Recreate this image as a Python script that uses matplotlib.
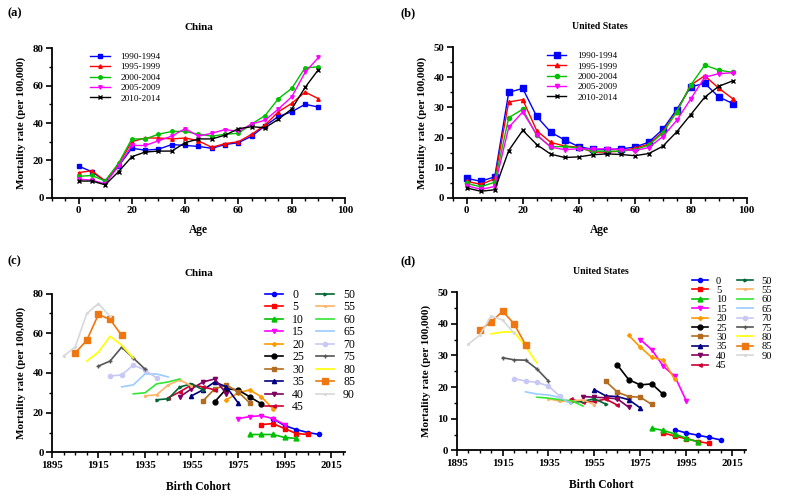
import matplotlib.pyplot as plt
from matplotlib.ticker import MultipleLocator

plt.rcParams['font.family'] = ['Liberation Serif', 'DejaVu Serif']

# Age groups and calendar periods
ages_cn = [0, 5, 10, 15, 20, 25, 30, 35, 40, 45, 50, 55, 60, 65, 70, 75, 80, 85, 90]
ages_us = [0, 5, 10, 15, 20, 25, 30, 35, 40, 45, 50, 55, 60, 65, 70, 75, 80, 85, 90, 95]
periods = ["1990-1994", "1995-1999", "2000-2004", "2005-2009", "2010-2014"]
period_start = [1990, 1995, 2000, 2005, 2010]

# China mortality rate (per 100,000) by age, one list per period
cn_1990 = [17, 14, 9, 17, 26.5, 25.5, 26, 28.5, 28, 27.5, 26.5, 28.5, 29.5, 33, 38.5, 43.5, 46, 50, 48.5]
cn_1995 = [13.5, 14.5, 9, 18, 30, 32, 32, 31.5, 32, 30.5, 27, 29, 30, 34, 39, 46, 50.5, 56.5, 53]
cn_2000 = [11.5, 12, 9, 18.5, 31.5, 31.5, 34, 35.5, 35.5, 34, 33, 34, 34.5, 39.5, 44, 53, 58.5, 69.5, 70]
cn_2005 = [10, 9.5, 7.5, 17, 28, 28, 30.5, 33, 37, 33, 34.5, 36.5, 35.5, 39.5, 41.5, 47.5, 54, 67, 75]
cn_2010 = [9, 9, 7, 14, 22, 24.5, 25, 25, 29.5, 31.5, 31.5, 33.5, 37, 38, 37.5, 42, 47.5, 59, 68.5]

# United States mortality rate (per 100,000) by age
us_1990 = [6.5, 5.5, 7, 35, 36.3, 27, 21.8, 19.2, 17, 16.1, 16, 16.3, 16.8, 18.5, 22.7, 29.3, 36.8, 38, 33.5, 31.3]
us_1995 = [5.5, 4.5, 6.3, 31.8, 32.6, 22.3, 18.4, 17.2, 16.8, 15.2, 15.2, 15.5, 16.5, 17.8, 21.9, 28.6, 37.4, 40.5, 36.4, 32.9]
us_2000 = [4.8, 3.7, 5.2, 26.6, 29.4, 20.7, 17, 17, 16.6, 15.5, 15.5, 15.5, 16, 17.5, 21.5, 28.5, 37.4, 44, 42.4, 41.6]
us_2005 = [4.1, 2.8, 3.8, 23.4, 28.5, 21, 16.8, 16, 16.3, 16.2, 16.3, 16, 15.7, 16.7, 20.3, 25.7, 32.8, 40, 41.2, 41.5]
us_2010 = [3.3, 2.2, 2.7, 15.7, 22.4, 17.7, 14.5, 13.4, 13.6, 14.3, 14.6, 14.4, 14.0, 14.7, 17.1, 21.9, 27.6, 33.4, 37, 38.8]

cn_data = [cn_1990, cn_1995, cn_2000, cn_2005, cn_2010]
us_data = [us_1990, us_1995, us_2000, us_2005, us_2010]

# styles
period_colors = ['#0000ff', '#ff0000', '#00c000', '#ff00ff', '#000000']
period_markers = ['s', '^', 'o', 'v', 'x']
period_msize = [3.5, 2.5, 2.5, 2.5, 3]

age_colors = ['#0000ff', '#ff0000', '#00c000', '#ff00ff', '#ff9900',
              '#000000', '#b36b1f', '#000080', '#800060', '#cc0033',
              '#006633', '#ffb366', '#33e633', '#99ccff', '#c8c8f5',
              '#555555', '#ffff00', '#ee7711', '#d8d8d8']
age_markers = ['o', 's', '^', 'v', 'D', 'o', 's', '^', 'v', '<',
               '>', '.', '', '', 'o', '+', '', 's', '.']
age_msize = [3, 3.5, 3.5, 3, 2, 3.5, 3.5, 3, 3, 2.5,
             2, 2.5, 0, 0, 3, 3.5, 0, 4, 2.5]


def style_axes(ax, ylim, ymaj, xlim, xmaj, xmin, xlabel, xpad):
    ax.set_xlim(*xlim)
    ax.set_ylim(*ylim)
    ax.xaxis.set_major_locator(MultipleLocator(xmaj))
    ax.xaxis.set_minor_locator(MultipleLocator(xmin))
    ax.yaxis.set_major_locator(MultipleLocator(ymaj))
    ax.yaxis.set_minor_locator(MultipleLocator(ymaj / 2))
    for s in ['top', 'right']:
        ax.spines[s].set_visible(False)
    for s in ['left', 'bottom']:
        ax.spines[s].set_linewidth(1.3)
    ax.tick_params(which='major', direction='out', length=4, width=1.2, labelsize=7.8, pad=2)
    ax.tick_params(which='minor', direction='out', length=2.5, width=1.0)
    for lab in ax.get_xticklabels() + ax.get_yticklabels():
        lab.set_fontweight('bold')
    ax.set_xlabel(xlabel, fontsize=8.3, fontweight='bold', labelpad=xpad)
    ax.set_ylabel("Mortality rate (per 100,000)", fontsize=8, fontweight='bold', labelpad=5)


fig = plt.figure(figsize=(7.86, 4.96), dpi=100)

ax_a = fig.add_axes([0.066, 0.601, 0.373, 0.302])
ax_b = fig.add_axes([0.576, 0.601, 0.374, 0.304])
ax_c = fig.add_axes([0.066, 0.088, 0.373, 0.320])
ax_d = fig.add_axes([0.581, 0.092, 0.368, 0.319])

# (a) and (b): rate by age for each period
for ax, ages, data, title, tfs, xlim, ylim, ymaj, leg_x in [
        (ax_a, ages_cn, cn_data, "China", 8, (-10, 100), (0, 80), 20, 0.13),
        (ax_b, ages_us, us_data, "United States", 7, (-5, 100), (0, 50), 10, 0.32)]:
    for k in range(len(periods)):
        ax.plot(ages, data[k], color=period_colors[k], marker=period_markers[k],
                markersize=period_msize[k] + (0.5 if ax is ax_b else 0), linewidth=1.0,
                label=periods[k])
    style_axes(ax, ylim, ymaj, xlim, 20, 5, "Age", 6)
    ax.set_title(title, fontsize=tfs, fontweight='bold', pad=13)
    ax.legend(loc='upper left', bbox_to_anchor=(leg_x, 0.97), frameon=False,
              fontsize=6.7, handlelength=2.1, handletextpad=1.2,
              labelspacing=0.2, borderpad=0, borderaxespad=0)

# (c) and (d): rate by birth cohort for each age group
for ax, data, title, tfs, ylim, ymaj, leg_pos, fs, lsp in [
        (ax_c, cn_data, "China", 8, (0, 80), 20, (0.727, 1.03), 8.5, 0.04),
        (ax_d, us_data, "United States", 7, (0, 50), 10, (0.813, 1.10), 7.6, 0.0)]:
    for i, age in enumerate(ages_cn):
        cohorts = [p - age for p in period_start]
        vals = [data[k][i] for k in range(len(periods))]
        ax.plot(cohorts, vals, color=age_colors[i], marker=age_markers[i] or None,
                markersize=age_msize[i], linewidth=1.2, label=str(age))
    style_axes(ax, ylim, ymaj, (1895, 2021), 20, 5, "Birth Cohort", 8)
    ax.set_xticks([1895, 1915, 1935, 1955, 1975, 1995, 2015])
    for lab in ax.get_xticklabels():
        lab.set_fontweight('bold')
    ax.set_title(title, fontsize=tfs, fontweight='bold', pad=13)
    ax.legend(loc='upper left', bbox_to_anchor=leg_pos, frameon=False, ncol=2,
              fontsize=fs, handlelength=1.5, handletextpad=0.8, columnspacing=1.0,
              labelspacing=lsp, borderpad=0, borderaxespad=0)

fig.text(0.009, 0.985, "(a)", fontsize=9, fontweight='bold', va='top')
fig.text(0.509, 0.985, "(b)", fontsize=9, fontweight='bold', va='top')
fig.text(0.009, 0.485, "(c)", fontsize=9, fontweight='bold', va='top')
fig.text(0.509, 0.485, "(d)", fontsize=9, fontweight='bold', va='top')

fig.savefig("out.png", dpi=100)
